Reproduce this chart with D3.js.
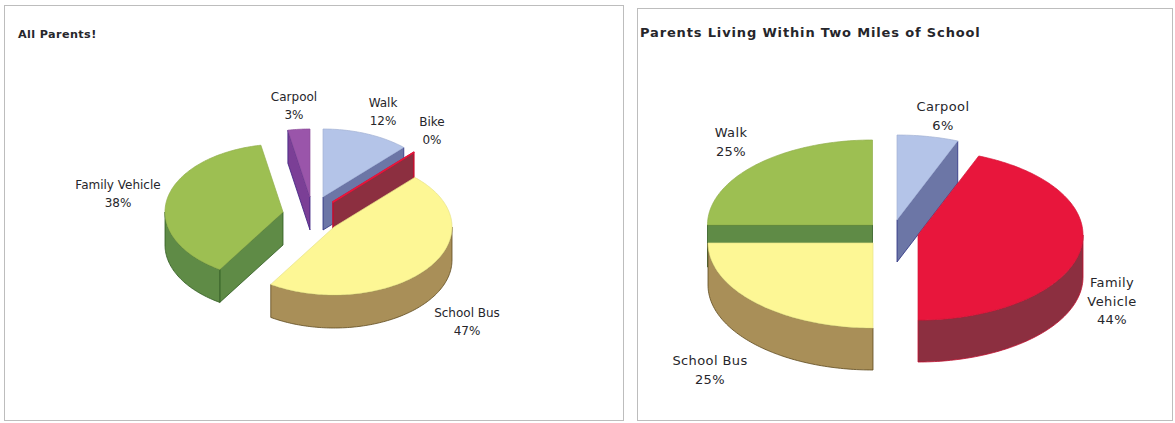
<!DOCTYPE html>
<html>
<head>
<meta charset="utf-8">
<script src="https://cdn.jsdelivr.net/npm/d3@7"></script>
<style>
  html, body { margin: 0; padding: 0; background: #fff; }
  svg { display: block; }
  text { font-family: "DejaVu Sans", sans-serif; fill: #26262b; }
</style>
</head>
<body>
<svg id="chart" width="1175" height="423"></svg>
<script>
// Survey results: how children get to school
const allCategories = ["Walk", "Bike", "School Bus", "Family Vehicle", "Carpool"];
const allValues = [12, 0, 47, 38, 3];
const nearCategories = ["Carpool", "Family Vehicle", "School Bus", "Walk"];
const nearValues = [6, 44, 25, 25];

const TAU = Math.PI * 2;

const tones = {
  blue:   { top: "#b4c4e8", wall: "#6c76a6", edge: "#2a2f80" },
  red:    { top: "#e8163c", wall: "#8c2f40", edge: "#c01030" },
  yellow: { top: "#fdf795", wall: "#a98f58", edge: "#5e4a1e" },
  green:  { top: "#9dbf52", wall: "#5f8b46", edge: "#2f5a20" },
  purple: { top: "#9a55aa", wall: "#7b3f96", edge: "#3a1f80" }
};

// Layout of each pie: projected ellipse, extruded height, per-slice explosion offsets
const panels = [
  {
    frame: { x: 4.5, y: 5.5, w: 619, h: 415 },
    title: { text: "All Parents!", x: 18, y: 38, size: 11.2, spacing: 0.4 },
    categories: allCategories,
    values: allValues,
    centre: [303, 214], rx: 118, ry: 68, depth: 33,
    tone: ["blue", "red", "yellow", "green", "purple"],
    shift: [[20, -17], [30, -12], [31, 13], [-20, -2], [7, -17]],
    order: [4, 3, 0, 1, 2],
    labelSize: 12,
    labelSpacing: 0,
    labels: [
      { lines: ["Walk", "12%"], x: 383, y: 107 },
      { lines: ["Bike", "0%"], x: 432, y: 126 },
      { lines: ["School Bus", "47%"], x: 467, y: 317 },
      { lines: ["Family Vehicle", "38%"], x: 118, y: 189 },
      { lines: ["Carpool", "3%"], x: 294, y: 101 }
    ]
  },
  {
    frame: { x: 637.5, y: 8.5, w: 535, h: 412 },
    title: { text: "Parents Living Within Two Miles of School", x: 640, y: 37, size: 13, spacing: 0.85 },
    categories: nearCategories,
    values: nearValues,
    centre: [890, 232], rx: 165, ry: 85, depth: 42,
    tone: ["blue", "red", "yellow", "green"],
    shift: [[7, -12], [28, 3], [-17, 11], [-17.5, -7]],
    order: [0, 1, 3, 2],
    labelSize: 13,
    labelSpacing: 0.4,
    labels: [
      { lines: ["Carpool", "6%"], x: 943, y: 111 },
      { lines: ["Family", "Vehicle", "44%"], x: 1112, y: 287 },
      { lines: ["School Bus", "25%"], x: 710, y: 365 },
      { lines: ["Walk", "25%"], x: 731, y: 137 }
    ]
  }
];

const svg = d3.select("#chart");
svg.append("rect").attr("width", 1175).attr("height", 423).attr("fill", "#fff");

// Clockwise angle from twelve o'clock onto the unit circle
const unitX = a => Math.sin(a);
const unitY = a => -Math.cos(a);
const outline = d3.line().x(p => p[0]).y(p => p[1]);

function arcPoints(sx, sy, a0, a1, lift) {
  const steps = Math.max(2, Math.ceil((a1 - a0) / 0.02));
  return d3.range(steps + 1).map(i => {
    const a = a0 + (a1 - a0) * i / steps;
    return [sx(unitX(a)), sy(unitY(a)) + lift];
  });
}

function drawPanel(p) {
  svg.append("rect")
    .attr("x", p.frame.x).attr("y", p.frame.y)
    .attr("width", p.frame.w).attr("height", p.frame.h)
    .attr("fill", "#fff").attr("stroke", "#bdbdbd");

  svg.append("text")
    .attr("x", p.title.x).attr("y", p.title.y)
    .attr("font-size", p.title.size).attr("font-weight", "bold")
    .attr("letter-spacing", p.title.spacing)
    .text(p.title.text);

  const arcs = d3.pie().sort(null).startAngle(0).endAngle(TAU)(p.values);
  const g = svg.append("g");

  p.order.forEach(i => {
    const arc = arcs[i];
    const tone = tones[p.tone[i]];
    const [dx, dy] = p.shift[i];
    const sx = d3.scaleLinear().domain([-1, 1]).range([p.centre[0] + dx - p.rx, p.centre[0] + dx + p.rx]);
    const sy = d3.scaleLinear().domain([-1, 1]).range([p.centre[1] + dy - p.ry, p.centre[1] + dy + p.ry]);
    const apex = [sx(0), sy(0)];
    const a0 = arc.startAngle, a1 = arc.endAngle;
    const empty = arc.value === 0;
    const slice = g.append("g").attr("class", "slice").attr("data-category", p.categories[i]);
    const wallStyle = sel => sel.attr("fill", tone.wall).attr("stroke", tone.edge)
      .attr("stroke-width", empty ? 1.6 : 0.8).attr("stroke-linejoin", "round");

    // Radial cut faces, drawn only when they turn towards the viewer
    const radialWall = a => {
      const rim = [sx(unitX(a)), sy(unitY(a))];
      slice.append("path").call(wallStyle).attr("d", outline([
        apex, rim, [rim[0], rim[1] + p.depth], [apex[0], apex[1] + p.depth]
      ]) + "Z");
    };
    if (Math.sin(a0) < -1e-6) radialWall(a0);
    if (Math.sin(a1) > 1e-6) radialWall(a1);

    // Curved outer wall on the near half of the ellipse
    const w0 = Math.max(a0, Math.PI / 2), w1 = Math.min(a1, Math.PI * 1.5);
    if (w1 > w0) {
      const upper = arcPoints(sx, sy, w0, w1, 0);
      const lower = arcPoints(sx, sy, w0, w1, p.depth).reverse();
      slice.append("path").call(wallStyle).attr("d", outline(upper.concat(lower)) + "Z");
    }

    // Top face; a zero share still shows as a hairline
    const top = [apex].concat(arcPoints(sx, sy, a0, a1, 0));
    slice.append("path")
      .attr("d", outline(top) + "Z")
      .attr("fill", tone.top)
      .attr("stroke", empty ? tone.top : d3.color(tone.top).darker(0.25))
      .attr("stroke-width", empty ? 1.6 : 0.7)
      .attr("stroke-linejoin", "round");
  });

  p.labels.forEach(l => {
    const t = svg.append("text")
      .attr("text-anchor", "middle")
      .attr("font-size", p.labelSize)
      .attr("letter-spacing", p.labelSpacing);
    l.lines.forEach((line, k) => {
      t.append("tspan").attr("x", l.x).attr("y", l.y + k * (p.labelSize + 5.5)).text(line);
    });
  });
}

panels.forEach(drawPanel);
</script>
</body>
</html>
